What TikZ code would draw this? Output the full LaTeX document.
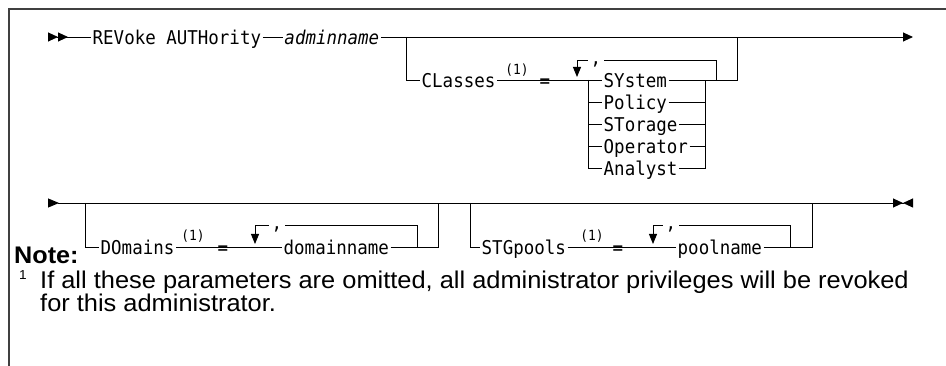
\documentclass[tikz,border=0pt]{standalone}
\usepackage{fontspec}
\setmainfont{Liberation Sans}
\setmonofont{DejaVu Sans Mono}[FakeStretch=0.92]
\newfontfamily\notefont{Liberation Sans}[FakeStretch=1.05]
\usetikzlibrary{arrows.meta,positioning,calc}
\tikzset{
    panel/.style={line width=1.2pt, draw=black!75},
    rail/.style={line width=0.9pt},
    kw/.style={anchor=west, inner xsep=1.5pt, inner ysep=0pt, font=\fontsize{19}{22}\selectfont\ttfamily, text height=15pt, text depth=0pt},
    var/.style={kw, font=\fontsize{19}{22}\selectfont\ttfamily\itshape},
    eq/.style={kw, anchor=center, inner xsep=0pt},
    fn/.style={anchor=center, inner sep=0pt, font=\fontsize{14}{16}\selectfont\ttfamily, text height=10pt, text depth=2pt},
    sepchar/.style={anchor=center, inner xsep=3pt, inner ysep=0pt, font=\fontsize{19}{22}\selectfont\ttfamily, text height=10pt, text depth=0pt},
    railfirst/.style={{Triangle[reversed,length=10pt,width=9pt,sep=0pt]Triangle[reversed,length=10pt,width=9pt,sep=0pt]}-},
    railarrow/.style={-{Triangle[length=10pt,width=9pt]}},
    railrow/.style={{Triangle[reversed,length=11pt,width=9pt]}-{Triangle[length=10pt,width=9pt,sep=0pt]Triangle[reversed,length=10pt,width=9pt]}},
    reparrow/.style={-{Triangle[length=10pt,width=8pt]}, shorten >=3pt},
    notehead/.style={anchor=base west, inner sep=0pt, font=\notefont\bfseries\fontsize{24}{28}\selectfont},
    notenum/.style={anchor=base west, inner sep=0pt, font=\notefont\fontsize{13}{15}\selectfont},
    notetext/.style={anchor=base west, inner sep=0pt, font=\notefont\fontsize{24.2}{28}\selectfont},
}
\begin{document}
\begin{tikzpicture}[x=1pt, y=-1pt]
    \useasboundingbox (0,0) rectangle (946,366);
    \draw[panel] (946,9) -- (9,9) -- (9,366);

    \coordinate (s1) at (48,37);
    \node[kw] (revoke) at (91,37) {REVoke AUTHority};
    \node[var, right=20pt of revoke] (admin) {adminname};
    \coordinate (e1) at (913,37);
    \coordinate (clsA) at (406,37);
    \coordinate (clsZ) at (737,37);
    \draw[rail, railfirst] (s1) -- (revoke);
    \draw[rail] (revoke) -- (admin);
    \draw[rail, railarrow] (admin) -- (e1);

    \node[kw] (classes) at (420,80) {CLasses};
    \node[fn] (classesfn) at (517,71) {(1)};
    \node[eq] (classeseq) at (545,80) {=};
    \coordinate (clsD) at (577,80);
    \coordinate (clsL) at (588,80);
    \coordinate (clsR) at (705,80);
    \coordinate (clsJ) at (716,80);
    \coordinate (clsK) at (737,80);
    \foreach \n/\lbl/\y in {sys/SYstem/80, pol/Policy/102, sto/STorage/124, ope/Operator/146, ana/Analyst/168}
        \node[kw] (\n) at (602,\y) {\lbl};
    \node[sepchar] (clsSep) at (596,60) {,};
    \draw[rail] (clsA) |- (classes);
    \draw[rail] (classes) -- (sys);
    \draw[rail] (sys) -- (clsK) -- (clsZ);
    \draw[rail] (clsL) |- (ana);
    \draw[rail] (ana) -| (clsR);
    \foreach \n in {pol, sto, ope} {
        \draw[rail] (clsL |- \n) -- (\n);
        \draw[rail] (\n) -- (\n -| clsR);
    }
    \draw[rail] (clsJ) |- (clsSep);
    \draw[rail, reparrow] (clsSep) -| (clsD);

    \coordinate (s2) at (48,203);
    \coordinate (e2) at (913,203);
    \draw[rail, railrow] (s2) -- (e2);

    \coordinate (domA) at (85,203);
    \node[kw] (domains) at (99,247) {DOmains};
    \node[fn] (domainsfn) at (193,237) {(1)};
    \node[eq] (domainseq) at (223,247) {=};
    \coordinate (domD) at (255,247);
    \node[sepchar] (domSep) at (277,225) {,};
    \node[kw] (domname) at (282,247) {domainname};
    \coordinate (domJ) at (417,247);
    \coordinate (domK) at (438,247);
    \coordinate (domZ) at (438,203);
    \draw[rail] (domA) |- (domains);
    \draw[rail] (domains) -- (domname);
    \draw[rail] (domname) -- (domK) -- (domZ);
    \draw[rail] (domJ) |- (domSep);
    \draw[rail, reparrow] (domSep) -| (domD);

    \coordinate (stgA) at (470,203);
    \node[kw] (stgpools) at (480,247) {STGpools};
    \node[fn] (stgpoolsfn) at (592,237) {(1)};
    \node[eq] (stgpoolseq) at (618,247) {=};
    \coordinate (stgD) at (653,247);
    \node[sepchar] (stgSep) at (671,225) {,};
    \node[kw] (poolname) at (676,247) {poolname};
    \coordinate (stgJ) at (790,247);
    \coordinate (stgK) at (812,247);
    \coordinate (stgZ) at (812,203);
    \draw[rail] (stgA) |- (stgpools);
    \draw[rail] (stgpools) -- (poolname);
    \draw[rail] (poolname) -- (stgK) -- (stgZ);
    \draw[rail] (stgJ) |- (stgSep);
    \draw[rail, reparrow] (stgSep) -| (stgD);

    \node[notehead] (note) at (14,264) {Note:};
    \node[notenum] (noteno) at (19,280) {1};
    \node[notetext] (noteA) at (40,289) {If all these parameters are omitted, all administrator privileges will be revoked};
    \node[notetext] (noteB) at (40,312) {for this administrator.};
\end{tikzpicture}
\end{document}
